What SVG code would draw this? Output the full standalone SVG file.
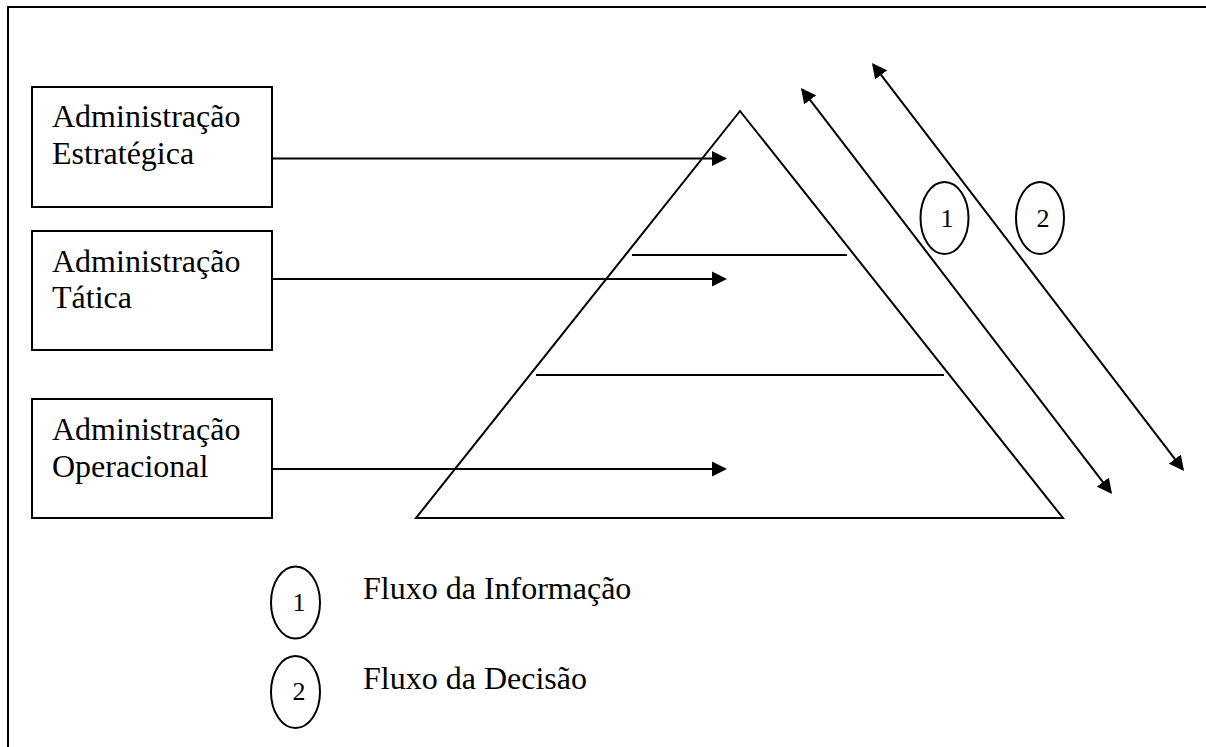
<svg xmlns="http://www.w3.org/2000/svg" width="1206" height="747" viewBox="0 0 1206 747">
<style>
  .frame { fill: none; stroke: #000; stroke-width: 2; }
  .box { fill: #fff; stroke: #000; stroke-width: 2; }
  .shape { fill: none; stroke: #000; stroke-width: 2; }
  .ell { fill: #fff; stroke: #000; stroke-width: 2; }
  .conn { fill: none; stroke: #000; stroke-width: 2; }
  .lbl { font-family: 'Liberation Serif', 'Times New Roman', serif; font-size: 32px; fill: #000; }
  .num { font-family: 'Liberation Serif', 'Times New Roman', serif; font-size: 26px; fill: #000; text-anchor: middle; }
</style>
<defs>
  <marker id="ah" markerUnits="userSpaceOnUse" markerWidth="16" markerHeight="16" viewBox="0 0 16 16" refX="13" refY="8" orient="auto-start-reverse">
    <path d="M0,0.5 L15,8 L0,15.5 Z" fill="#000"/>
  </marker>
</defs>
<path class="frame" d="M8,760 L8,7 L1220,7"/>

<g id="pyramid">
  <polygon class="shape" points="740,111 416,518 1063,518"/>
  <line class="shape" x1="632" y1="255" x2="847" y2="255"/>
  <line class="shape" x1="536" y1="375" x2="944" y2="375"/>
</g>

<g id="node-estrategica">
  <rect class="box" x="32" y="87" width="240" height="120"/>
  <text class="lbl" x="52" y="127">Administração</text>
  <text class="lbl" x="52" y="164">Estratégica</text>
</g>
<g id="node-tatica">
  <rect class="box" x="32" y="231" width="240" height="119"/>
  <text class="lbl" x="52" y="272">Administração</text>
  <text class="lbl" x="52" y="308">Tática</text>
</g>
<g id="node-operacional">
  <rect class="box" x="32" y="399" width="240" height="119"/>
  <text class="lbl" x="52" y="440">Administração</text>
  <text class="lbl" x="52" y="477">Operacional</text>
</g>

<g id="connectors">
  <line class="conn" x1="272" y1="158.5" x2="725" y2="158.5" marker-end="url(#ah)"/>
  <line class="conn" x1="272" y1="279" x2="725" y2="279" marker-end="url(#ah)"/>
  <line class="conn" x1="272" y1="469" x2="725" y2="469" marker-end="url(#ah)"/>
  <line class="conn" x1="802.2" y1="89.6" x2="1110.8" y2="492.4" marker-start="url(#ah)" marker-end="url(#ah)"/>
  <line class="conn" x1="873.2" y1="64.6" x2="1182.8" y2="469.4" marker-start="url(#ah)" marker-end="url(#ah)"/>
</g>

<g id="flow-1">
  <ellipse class="ell" cx="944.5" cy="218" rx="24" ry="36"/>
  <text class="num" x="947" y="227">1</text>
</g>
<g id="flow-2">
  <ellipse class="ell" cx="1040" cy="218" rx="24" ry="36"/>
  <text class="num" x="1043" y="227">2</text>
</g>

<g id="legend-1">
  <ellipse class="ell" cx="295.5" cy="602.5" rx="24.5" ry="36"/>
  <text class="num" x="299" y="611">1</text>
  <text class="lbl" x="363" y="599">Fluxo da Informação</text>
</g>
<g id="legend-2">
  <ellipse class="ell" cx="295.5" cy="692" rx="24.5" ry="36"/>
  <text class="num" x="299" y="700">2</text>
  <text class="lbl" x="363" y="689">Fluxo da Decisão</text>
</g>
</svg>
